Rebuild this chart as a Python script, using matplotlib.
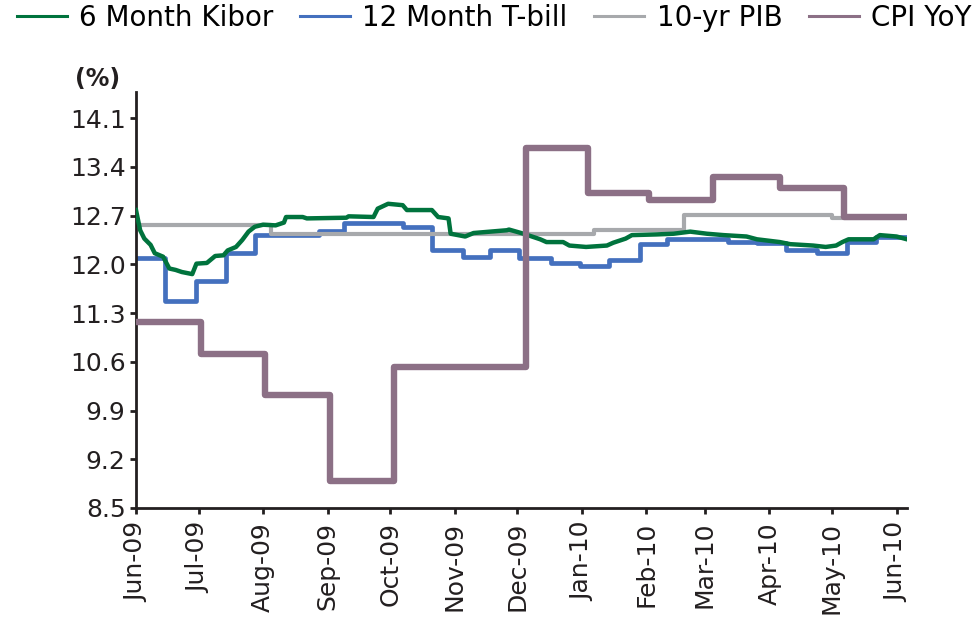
import numpy as np
import pandas as pd
import matplotlib
matplotlib.use("Agg")
import matplotlib.pyplot as plt
import matplotlib.dates as mdates

# 6 month Kibor (daily)
kibor_dates=["2009-06-01","2009-06-03","2009-06-05","2009-06-08","2009-06-10","2009-06-14",
             "2009-06-17","2009-06-20","2009-06-23","2009-06-28","2009-06-30","2009-07-05",
             "2009-07-09","2009-07-13","2009-07-15","2009-07-19","2009-07-22","2009-07-25",
             "2009-07-28","2009-08-01","2009-08-07","2009-08-11","2009-08-12","2009-08-20",
             "2009-08-22","2009-09-10","2009-09-11","2009-09-23","2009-09-25","2009-09-30",
             "2009-10-07","2009-10-09","2009-10-21","2009-10-24","2009-10-29","2009-10-30",
             "2009-11-06","2009-11-10","2009-11-26","2009-11-27","2009-12-04","2009-12-12",
             "2009-12-15","2009-12-23","2009-12-26","2010-01-03","2010-01-13","2010-01-16",
             "2010-01-22","2010-01-25","2010-02-06","2010-02-14","2010-02-22","2010-03-02",
             "2010-03-10","2010-03-21","2010-03-26","2010-04-06","2010-04-11","2010-04-22",
             "2010-04-28","2010-05-03","2010-05-06","2010-05-09","2010-05-21","2010-05-24",
             "2010-06-01","2010-06-06"]
kibor=[12.78,12.49,12.37,12.28,12.16,12.11,
       11.94,11.92,11.89,11.86,12.01,12.02,
       12.12,12.13,12.20,12.25,12.35,12.47,
       12.54,12.57,12.56,12.60,12.68,12.68,
       12.66,12.67,12.69,12.68,12.80,12.87,
       12.85,12.78,12.78,12.68,12.66,12.44,
       12.40,12.45,12.49,12.50,12.44,12.36,
       12.32,12.32,12.27,12.25,12.27,12.31,
       12.37,12.42,12.43,12.44,12.47,12.44,
       12.42,12.40,12.36,12.32,12.29,12.27,
       12.25,12.27,12.32,12.36,12.36,12.42,
       12.40,12.36]

# 12 month T-bill (steps)
tbill_dates=["2009-06-01","2009-06-15","2009-06-30","2009-07-14","2009-07-28","2009-08-28",
             "2009-09-09","2009-10-07","2009-10-21","2009-11-05","2009-11-18","2009-12-02",
             "2009-12-17","2009-12-31","2010-01-14","2010-01-29","2010-02-11","2010-03-12",
             "2010-03-26","2010-04-09","2010-04-24","2010-05-08","2010-05-22","2010-06-06"]
tbill=[12.09,11.48,11.76,12.17,12.42,12.48,
       12.60,12.54,12.20,12.10,12.20,12.09,
       12.02,11.98,12.06,12.29,12.37,12.32,
       12.30,12.20,12.17,12.32,12.40,12.40]

# 10-yr PIB (steps)
pib_dates=["2009-06-01","2009-08-05","2010-01-07","2010-02-19","2010-05-01","2010-06-06"]
pib=[12.57,12.43,12.49,12.71,12.66,12.66]

# CPI YoY (steps)
cpi_dates=["2009-06-01","2009-07-02","2009-08-02","2009-09-02","2009-10-03","2009-12-05",
           "2010-01-04","2010-02-02","2010-03-05","2010-04-06","2010-05-07","2010-06-06"]
cpi=[11.17,10.71,10.13,8.89,10.53,13.67,
     13.03,12.92,13.26,13.09,12.68,12.68]

yticks=[8.5,9.2,9.9,10.6,11.3,12.0,12.7,13.4,14.1]

plt.rcParams['font.family']=['DejaVu Sans']

fig=plt.figure(figsize=(9.77,6.26),dpi=100)
ax=fig.add_axes([0.1392,0.1885,0.7891,0.665])

ax.plot(pd.to_datetime(kibor_dates),kibor,color="#00733D",lw=3.2,label="6 Month Kibor",zorder=3)
ax.step(pd.to_datetime(tbill_dates),tbill,where="post",color="#4470BE",lw=3.4,label="12 Month T-bill",zorder=2)
ax.step(pd.to_datetime(pib_dates),pib,where="post",color="#A7A9AC",lw=3.0,label="10-yr PIB",zorder=2)
ax.step(pd.to_datetime(cpi_dates),cpi,where="post",color="#8C7086",lw=4.6,label="CPI YoY",zorder=4)

ax.set_xlim(pd.Timestamp("2009-06-01"),pd.Timestamp("2010-06-06"))
ax.set_ylim(8.5,14.48)
ax.set_yticks(yticks)
ax.set_yticklabels(["%.1f" % v for v in yticks])
ax.xaxis.set_major_locator(mdates.MonthLocator())
ax.xaxis.set_major_formatter(mdates.DateFormatter("%b-%y"))
for lab in ax.get_xticklabels():
    lab.set_rotation(90)
ax.tick_params(axis="both",labelsize=18,direction="out",length=4,width=2,colors="#231F20")
ax.tick_params(axis="x",pad=6)
for s in ["top","right"]:
    ax.spines[s].set_visible(False)
for s in ["left","bottom"]:
    ax.spines[s].set_linewidth(2)
    ax.spines[s].set_color("#231F20")

fig.text(0.077,0.862,"(%)",fontsize=17,fontweight="bold",color="#231F20")

h,l=ax.get_legend_handles_labels()
leg=fig.legend(h,l,loc="upper left",bbox_to_anchor=(0.0,1.02),ncol=4,frameon=False,
               fontsize=20,handlelength=1.8,handletextpad=0.45,columnspacing=0.95,borderaxespad=0.2)
for line in leg.get_lines():
    line.set_linewidth(2.2)

fig.savefig("out.png",dpi=100)
